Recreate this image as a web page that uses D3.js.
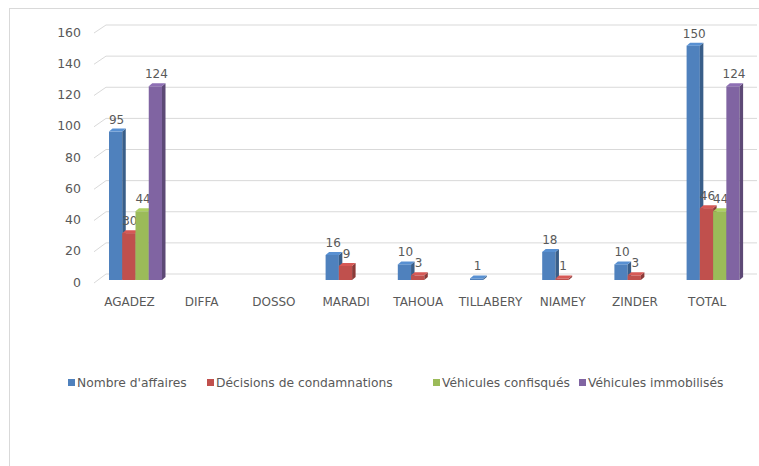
<!DOCTYPE html>
<html>
<head>
<meta charset="utf-8">
<script src="https://cdn.jsdelivr.net/npm/d3@7"></script>
<style>
  body { margin: 0; background: #fff; }
  text { font-family: "DejaVu Sans", sans-serif; fill: #595959; }
</style>
</head>
<body>
<svg id="chart" width="759" height="466"></svg>
<script>
// data (null = empty cell)
const regions = ["AGADEZ", "DIFFA", "DOSSO", "MARADI", "TAHOUA", "TILLABERY", "NIAMEY", "ZINDER", "TOTAL"];
const affaires = [95, null, null, 16, 10, 1, 18, 10, 150];
const condamnations = [30, null, null, 9, 3, null, 1, 3, 46];
const confisques = [44, null, null, null, null, null, null, null, 44];
const immobilises = [124, null, null, null, null, null, null, null, 124];
const seriesNames = ["Nombre d'affaires", "Décisions de condamnations", "Véhicules confisqués", "Véhicules immobilisés"];
const yTicks = [0, 20, 40, 60, 80, 100, 120, 140, 160];

const series = [affaires, condamnations, confisques, immobilises];
const colors = ["#4F81BD", "#C0504D", "#9BBB59", "#8064A2"];

const svg = d3.select("#chart");

// chart area border
svg.append("rect")
  .attr("x", 9.5).attr("y", 8.5)
  .attr("width", 780).attr("height", 480)
  .attr("fill", "none").attr("stroke", "#d9d9d9");

// front / back / bar scales (3d look)
const yFront = d3.scaleLinear().domain([0, 160]).range([283, 33]);
const yBack = d3.scaleLinear().domain([0, 160]).range([274, 25]);
const yBar = d3.scaleLinear().domain([0, 160]).range([280, 30]);
const x0 = d3.scaleBand().domain(regions).range([99.4, 749.2]).paddingInner(0).paddingOuter(0);
const x1 = d3.scaleBand().domain(d3.range(4)).range([0, 53]);
const dx = 3.5, dy = 3;

const grid = svg.append("g");
yTicks.forEach(t => {
  grid.append("line")
    .attr("x1", 106).attr("x2", 757)
    .attr("y1", yBack(t)).attr("y2", yBack(t))
    .attr("stroke", "#d9d9d9");
  grid.append("line")
    .attr("x1", 94).attr("x2", 106)
    .attr("y1", yFront(t)).attr("y2", yBack(t))
    .attr("stroke", "#d9d9d9");
  grid.append("text")
    .attr("x", 81).attr("y", yFront(t))
    .attr("text-anchor", "end").attr("dominant-baseline", "middle")
    .attr("font-size", 12.5)
    .text(t);
});

// category labels
svg.append("g").selectAll("text")
  .data(regions).enter()
  .append("text")
  .attr("x", d => x0(d) + x0.bandwidth() / 2 - 6)
  .attr("y", 302)
  .attr("text-anchor", "middle").attr("dominant-baseline", "middle")
  .attr("font-size", 12)
  .text(d => d);

// bars
const bars = svg.append("g");
regions.forEach((r, i) => {
  series.forEach((s, k) => {
    const v = s[i];
    if (v == null) return;
    const w = x1.bandwidth();
    const x = x0(r) + (x0.bandwidth() - 53) / 2 + x1(k);
    const y = yBar(v), base = yBar(0);
    const c = d3.color(colors[k]);
    bars.append("rect")
      .attr("x", x).attr("y", y)
      .attr("width", w).attr("height", Math.max(0, base - y))
      .attr("fill", colors[k]);
    bars.append("polygon")
      .attr("points", [[x + w, y], [x + w + dx, y - dy], [x + w + dx, base - dy], [x + w, base]].join(" "))
      .attr("fill", c.darker(0.9));
    bars.append("polygon")
      .attr("points", [[x, y], [x + dx, y - dy], [x + w + dx, y - dy], [x + w, y]].join(" "))
      .attr("fill", c.brighter(0.3));
    bars.append("text")
      .attr("x", x + w / 2 + 1)
      .attr("y", y - 8)
      .attr("text-anchor", "middle")
      .attr("font-size", 12)
      .text(v);
  });
});

// legend
const legendX = [68, 207, 433, 579];
const legend = svg.append("g");
seriesNames.forEach((n, k) => {
  legend.append("rect")
    .attr("x", legendX[k]).attr("y", 379)
    .attr("width", 7).attr("height", 7)
    .attr("fill", colors[k]);
  legend.append("text")
    .attr("x", legendX[k] + 9).attr("y", 383)
    .attr("dominant-baseline", "middle")
    .attr("font-size", 12.3)
    .text(n);
});
</script>
</body>
</html>
